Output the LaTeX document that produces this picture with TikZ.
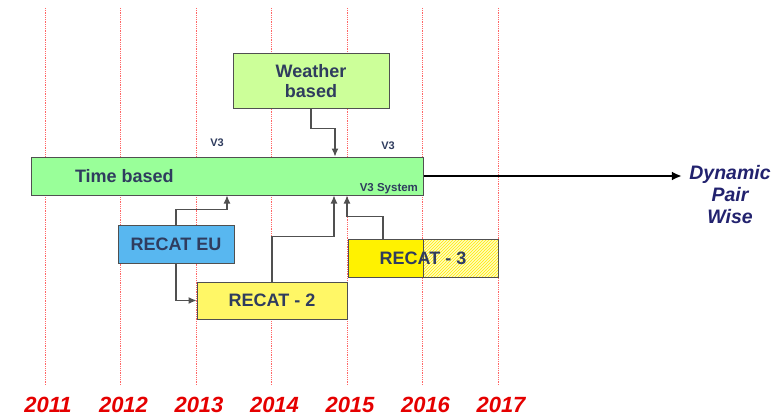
\documentclass[tikz,border=0pt]{standalone}
\usepackage{fontspec}
\setmainfont{Liberation Sans}
\usetikzlibrary{arrows.meta, calc, patterns}
\definecolor{txtblue}{HTML}{2F3C5E}
\definecolor{dpwblue}{HTML}{22226E}
\definecolor{boxedge}{HTML}{505050}

\begin{document}
\begin{tikzpicture}[x=1pt,y=-1pt,
  box/.style={draw=boxedge,line width=1pt,inner sep=0pt,font=\fontsize{18}{20}\selectfont\bfseries,text=txtblue,align=center},
  flow/.style={draw=boxedge,line width=1.1pt,-{Latex[length=8pt,width=7pt]}},
  yearlbl/.style={font=\fontsize{22}{24}\selectfont\bfseries\itshape,text=red!90!black},
  small/.style={font=\fontsize{11}{13}\selectfont\bfseries,text=txtblue}]
  \useasboundingbox (0,0) rectangle (783,417);
  % year grid
  \foreach \yr [count=\i from 0] in {2011,...,2017}{
    \draw[red!60,densely dotted,line width=0.8pt] (45+75.5*\i,8)--(45+75.5*\i,385);
    \node[yearlbl] (y\yr) at(48+75.5*\i,405){\yr};
  }
  % boxes
  \node[box,fill=green!40,minimum width=392,minimum height=38] (time) at(227,176){};
  \node[box,anchor=west,draw=none] at(time.west){\hspace{44pt}Time based};
  \node[small,anchor=south east,font=\fontsize{11.5}{13}\selectfont\bfseries] (v3sys) at([xshift=-2,yshift=-2]time.south east){V3 System};
  \node[box,fill={rgb,255:red,204;green,255;blue,153},minimum width=156,minimum height=54] (weather) at(311,81){Weather\\based};
  \node[box,fill={rgb,255:red,88;green,183;blue,240},minimum width=116,minimum height=38] (eu) at(176,244){RECAT EU};
  \node[box,fill=yellow!60,minimum width=150,minimum height=37] (r2) at(272,300.5){RECAT - 2};
  \node[box,minimum width=150,minimum height=38,
    path picture={
      \fill[yellow!25] (path picture bounding box.south west) rectangle (path picture bounding box.north east);
      \fill[pattern=north east lines,pattern color=yellow!85!orange] (path picture bounding box.south) rectangle (path picture bounding box.north east);
      \fill[yellow] (path picture bounding box.south west) rectangle (path picture bounding box.north);
      \draw[boxedge,line width=0.8pt] (path picture bounding box.south) -- (path picture bounding box.north);
    }] (r3) at(423,258){RECAT - 3};
  \node[small] (v3a) at(217,143){V3};
  \node[small] (v3b) at(388,146){V3};
  \node[font=\fontsize{19.5}{22}\selectfont\bfseries\itshape,text=dpwblue,align=center] (dpw) at(730,195){Dynamic\\Pair\\Wise};
  % connectors
  \draw[flow] (weather.south) -- ++(0,20) -| ([xshift=108]time.north);
  \draw[flow] (eu.north) -- ++(0,-15) -| (time.south);
  \draw[flow] (eu.south) |- (r2.west);
  \draw[flow] (r2.north) -- ++(0,-45) -| ([xshift=107]time.south);
  \draw[flow] ([xshift=-40]r3.north) -- ++(0,-22) -| ([xshift=120]time.south);
  \draw[line width=2.2pt,-{Latex[length=10pt,width=9pt]}] (time.east) -- ([xshift=-4]time.east -| dpw.west);
\end{tikzpicture}
\end{document}
